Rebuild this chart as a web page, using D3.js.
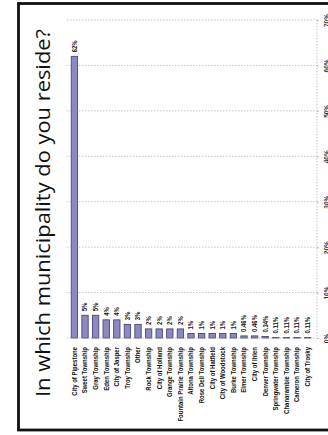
<!DOCTYPE html>
<html>
<head>
<meta charset="utf-8">
<script src="https://cdn.jsdelivr.net/npm/d3@7"></script>
<style>
  html, body { margin: 0; padding: 0; background: #ffffff; }
  svg { display: block; }
</style>
</head>
<body>
<svg id="chart" width="328" height="435"></svg>
<script>
// Survey answers: share of respondents per municipality
const categories = [
  "City of Pipestone", "Sweet Township", "Gray Township", "Eden Township",
  "City of Jasper", "Troy Township", "Other", "Rock Township",
  "City of Holland", "Grange Township", "Fountain Prairie Township",
  "Altona Township", "Rose Dell Township", "City of Hatfield",
  "City of Woodstock", "Burke Township", "Elmer Township", "City of Ihlen",
  "Denver Township", "Springwater Township", "Chanarambie Township",
  "Cameron Township", "City of Trosky"
];
const values = [62, 5, 5, 4, 4, 3, 3, 2, 2, 2, 2, 1, 1, 1, 1, 1, 0.46, 0.46, 0.34, 0.11, 0.11, 0.11, 0.11];
const valueLabels = ["62%", "5%", "5%", "4%", "4%", "3%", "3%", "2%", "2%", "2%", "2%", "1%", "1%", "1%", "1%", "1%", "0.46%", "0.46%", "0.34%", "0.11%", "0.11%", "0.11%", "0.11%"];
const tickValues = [0, 10, 20, 30, 40, 50, 60, 70];
const tickLabels = ["0%", "10%", "20%", "30%", "40%", "50%", "60%", "70%"];
const title = "In which municipality do you reside?";

const svg = d3.select("#chart");
const data = categories.map((c, i) => ({ cat: c, v: values[i], label: valueLabels[i] }));
const labelFont = "'Liberation Sans', Arial, sans-serif";

// slide frame (right edge runs past the page)
svg.append("rect")
  .attr("x", 18.5).attr("y", 3.5)
  .attr("width", 330).attr("height", 426.5)
  .attr("fill", "#ffffff")
  .attr("stroke", "#111111")
  .attr("stroke-width", 2.8);

// title, reading bottom to top
svg.append("text")
  .attr("transform", "translate(50,213) rotate(-90)")
  .attr("text-anchor", "middle")
  .attr("font-family", "'Open Sans', sans-serif")
  .attr("font-size", 20.5)
  .attr("fill", "#111111")
  .attr("textLength", 368)
  .attr("lengthAdjust", "spacingAndGlyphs")
  .text(title);

const plotLeft = 67, plotRight = 317;
const x = d3.scaleBand().domain(categories).range([67, 315]).padding(0.4);
const y = d3.scaleLinear().domain([0, 70]).range([338, 20]);

// horizontal gridlines
svg.append("g")
  .selectAll("line")
  .data(tickValues.slice(1))
  .join("line")
  .attr("x1", plotLeft).attr("x2", plotRight)
  .attr("y1", d => y(d)).attr("y2", d => y(d))
  .attr("stroke", "#a8a8a8")
  .attr("stroke-width", 0.7)
  .attr("stroke-dasharray", "1.5,1.5");

// right-hand edge of the plot area
svg.append("line")
  .attr("x1", plotRight).attr("x2", plotRight)
  .attr("y1", y(70)).attr("y2", y(0))
  .attr("stroke", "#a8a8a8")
  .attr("stroke-width", 0.7)
  .attr("stroke-dasharray", "1.5,1.5");

// bars
svg.append("g")
  .selectAll("rect")
  .data(data)
  .join("rect")
  .attr("x", d => x(d.cat))
  .attr("width", x.bandwidth())
  .attr("y", d => y(d.v))
  .attr("height", d => y(0) - y(d.v))
  .attr("fill", "#8c89c2")
  .attr("stroke", "#4a4874")
  .attr("stroke-width", 0.9);

// value labels above each bar
svg.append("g")
  .selectAll("text")
  .data(data)
  .join("text")
  .attr("transform", d => `translate(${x(d.cat) + x.bandwidth() / 2 + 2.4},${y(d.v) - 4}) rotate(-90) scale(0.85,1)`)
  .attr("text-anchor", "start")
  .attr("font-family", labelFont)
  .attr("font-weight", "bold")
  .attr("font-size", 7)
  .attr("fill", "#111111")
  .text(d => d.label);

// category axis along the baseline
const xAxis = svg.append("g")
  .attr("transform", `translate(0,${y(0)})`)
  .call(d3.axisBottom(x).tickSize(0).tickPadding(0));
xAxis.select(".domain")
  .attr("d", `M${plotLeft},0H${plotRight}`)
  .attr("stroke", "#a8a8a8")
  .attr("stroke-width", 0.7)
  .attr("stroke-dasharray", "1.5,1.5");
xAxis.selectAll("text")
  .attr("y", null).attr("dy", null)
  .attr("transform", "translate(2.4,9) rotate(-90) scale(0.88,1)")
  .attr("text-anchor", "end")
  .attr("font-family", labelFont)
  .attr("font-weight", "bold")
  .attr("font-size", 6.8)
  .attr("fill", "#111111");

// percentage axis on the right
const yAxis = svg.append("g")
  .attr("transform", `translate(${plotRight},0)`)
  .call(d3.axisRight(y).tickValues(tickValues).tickFormat((d, i) => tickLabels[i]).tickSize(2));
yAxis.select(".domain").remove();
yAxis.selectAll(".tick line").attr("stroke", "#a8a8a8").attr("stroke-width", 0.7);
yAxis.selectAll("text")
  .attr("x", null).attr("dy", null)
  .attr("transform", "translate(11.5,0) rotate(-90)")
  .attr("text-anchor", "middle")
  .attr("font-family", labelFont)
  .attr("font-weight", "bold")
  .attr("font-size", 6.5)
  .attr("fill", "#333333");
</script>
</body>
</html>
